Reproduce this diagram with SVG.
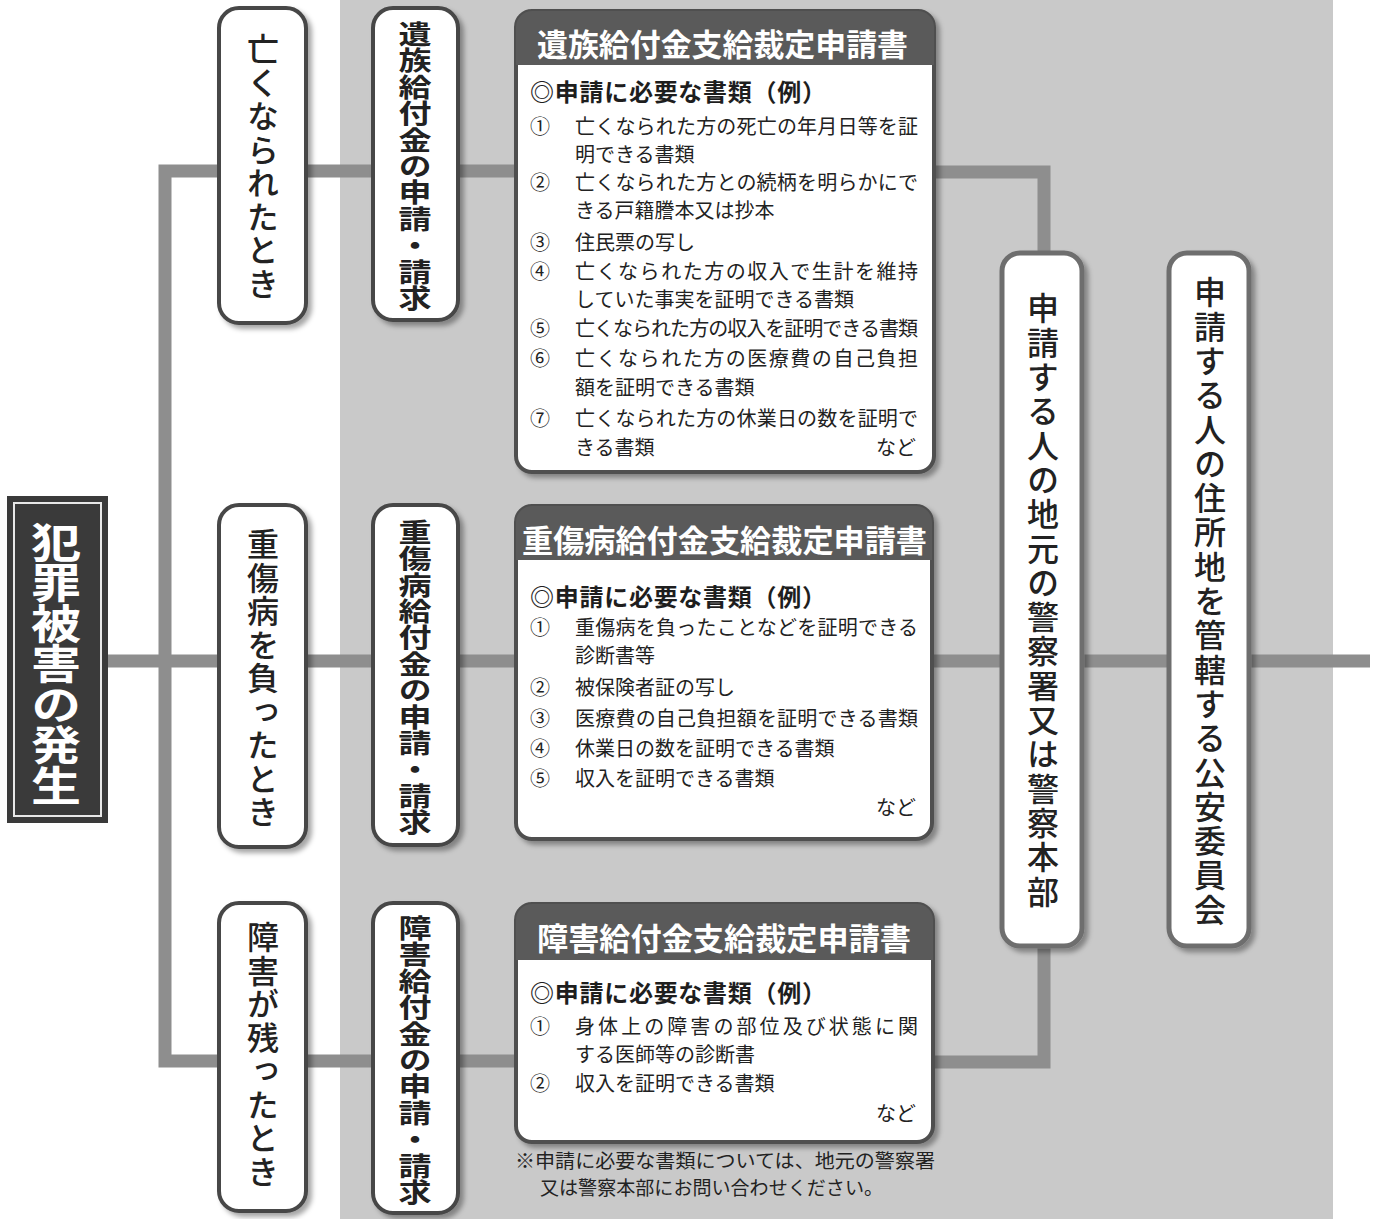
<svg xmlns="http://www.w3.org/2000/svg" width="1381" height="1219" viewBox="0 0 1381 1219">
<defs>
<filter id="sh" x="-20%" y="-20%" width="140%" height="140%">
<feDropShadow dx="4" dy="4" stdDeviation="2.5" flood-color="#000" flood-opacity="0.35"/>
</filter>
<style>
.jp{font-family:"Noto Sans CJK JP","Noto Sans CJK SC",sans-serif;}
.vt{writing-mode:vertical-rl;text-anchor:middle;}
.conn{fill:none;stroke:#8e8e8e;stroke-width:13;stroke-linejoin:miter;stroke-linecap:butt;}
.col{fill:#fff;stroke:#474747;stroke-width:4;filter:url(#sh);}
.col2{fill:#fff;stroke:#6e6e6e;stroke-width:5;filter:url(#sh);}
.lbl{font-size:32px;font-weight:500;fill:#222;letter-spacing:1.5px;}
.lblb{font-size:33px;font-weight:700;fill:#222;}
.doc{fill:#fff;stroke:#505050;stroke-width:4;filter:url(#sh);}
.hdr{fill:#5a5a5a;}
.ht{font-size:31px;font-weight:700;fill:#fff;}
.req{font-size:24px;font-weight:700;fill:#1e1e1e;}
.it{font-size:20px;font-weight:400;fill:#222;}
.fn{font-size:19px;font-weight:400;fill:#222;}
</style>
</defs>
<rect x="0" y="0" width="1381" height="1219" fill="#ffffff"/>
<rect x="340" y="0" width="993" height="1219" fill="#c9c9c9"/>

<g id="connectors">
<path class="conn" d="M515 171 H165 V1061 H515"/>
<path class="conn" d="M108 661 H1370"/>
<path class="conn" d="M930 172 H1044 V260"/>
<path class="conn" d="M1044 940 V1062 H930"/>
</g>

<g id="node-start">
<rect x="7" y="496" width="101" height="327" fill="#3a3a3a"/>
<rect x="14" y="503" width="87" height="313" fill="none" stroke="#e8e8e8" stroke-width="2"/>
<text class="jp vt" transform="translate(56,664) scale(1,0.81)" x="0" y="0" style="font-size:50px;font-weight:700;fill:#fff;">犯罪被害の発生</text>
</g>

<g id="node-death">
<rect class="col" x="219" y="8" width="87" height="315" rx="20"/>
<text class="jp vt lbl" x="263" y="167">亡くなられたとき</text>
</g>
<g id="node-death-apply">
<rect class="col" x="373" y="8" width="85" height="312" rx="20"/>
<text class="jp vt lblb" transform="translate(415,166) scale(1,0.8)" x="0" y="0">遺族給付金の申請・請求</text>
</g>

<g id="node-injury">
<rect class="col" x="219" y="505" width="87" height="342" rx="20"/>
<text class="jp vt lbl" x="263" y="679">重傷病を負ったとき</text>
</g>
<g id="node-injury-apply">
<rect class="col" x="373" y="505" width="85" height="340" rx="20"/>
<text class="jp vt lblb" transform="translate(415,677) scale(1,0.8)" x="0" y="0">重傷病給付金の申請・請求</text>
</g>

<g id="node-disability">
<rect class="col" x="219" y="903" width="87" height="308" rx="20"/>
<text class="jp vt lbl" x="263" y="1055">障害が残ったとき</text>
</g>
<g id="node-disability-apply">
<rect class="col" x="373" y="903" width="85" height="310" rx="20"/>
<text class="jp vt lblb" transform="translate(415,1060) scale(1,0.8)" x="0" y="0">障害給付金の申請・請求</text>
</g>

<g id="node-doc1">
<rect class="doc" x="516" y="11" width="418" height="461" rx="16"/>
<path class="hdr" d="M516 27 A16 16 0 0 1 532 11 H918 A16 16 0 0 1 934 27 V65 H516 Z"/>
<text class="jp ht" x="537" y="56" textLength="371" lengthAdjust="spacingAndGlyphs">遺族給付金支給裁定申請書</text>
<text class="jp req" x="530" y="101" textLength="296">◎申請に必要な書類（例）</text>
<g class="jp it">
<text x="530" y="134">①</text><text x="575" y="134" textLength="343">亡くなられた方の死亡の年月日等を証</text>
<text x="575" y="162">明できる書類</text>
<text x="530" y="190">②</text><text x="575" y="190" textLength="343">亡くなられた方との続柄を明らかにで</text>
<text x="575" y="218">きる戸籍謄本又は抄本</text>
<text x="530" y="250">③</text><text x="575" y="250">住民票の写し</text>
<text x="530" y="279">④</text><text x="575" y="279" textLength="343">亡くなられた方の収入で生計を維持</text>
<text x="575" y="307">していた事実を証明できる書類</text>
<text x="530" y="336">⑤</text><text x="575" y="336" textLength="343">亡くなられた方の収入を証明できる書類</text>
<text x="530" y="366">⑥</text><text x="575" y="366" textLength="343">亡くなられた方の医療費の自己負担</text>
<text x="575" y="395">額を証明できる書類</text>
<text x="530" y="426">⑦</text><text x="575" y="426" textLength="343">亡くなられた方の休業日の数を証明で</text>
<text x="575" y="455">きる書類</text>
<text x="916" y="455" text-anchor="end">など</text>
</g>
</g>

<g id="node-doc2">
<rect class="doc" x="516" y="506" width="416" height="333" rx="16"/>
<path class="hdr" d="M516 522 A16 16 0 0 1 532 506 H916 A16 16 0 0 1 932 522 V560 H516 Z"/>
<text class="jp ht" x="522" y="552" textLength="405" lengthAdjust="spacingAndGlyphs">重傷病給付金支給裁定申請書</text>
<text class="jp req" x="530" y="606" textLength="296">◎申請に必要な書類（例）</text>
<g class="jp it">
<text x="530" y="635">①</text><text x="575" y="635" textLength="343">重傷病を負ったことなどを証明できる</text>
<text x="575" y="663">診断書等</text>
<text x="530" y="695">②</text><text x="575" y="695">被保険者証の写し</text>
<text x="530" y="726">③</text><text x="575" y="726" textLength="343">医療費の自己負担額を証明できる書類</text>
<text x="530" y="756">④</text><text x="575" y="756">休業日の数を証明できる書類</text>
<text x="530" y="786">⑤</text><text x="575" y="786">収入を証明できる書類</text>
<text x="916" y="815" text-anchor="end">など</text>
</g>
</g>

<g id="node-doc3">
<rect class="doc" x="516" y="904" width="417" height="238" rx="16"/>
<path class="hdr" d="M516 920 A16 16 0 0 1 532 904 H917 A16 16 0 0 1 933 920 V960 H516 Z"/>
<text class="jp ht" x="537" y="950" textLength="374" lengthAdjust="spacingAndGlyphs">障害給付金支給裁定申請書</text>
<text class="jp req" x="530" y="1002" textLength="296">◎申請に必要な書類（例）</text>
<g class="jp it">
<text x="530" y="1034">①</text><text x="575" y="1034" textLength="343">身体上の障害の部位及び状態に関</text>
<text x="575" y="1062">する医師等の診断書</text>
<text x="530" y="1091">②</text><text x="575" y="1091">収入を証明できる書類</text>
<text x="916" y="1121" text-anchor="end">など</text>
</g>
</g>

<g id="footnote">
<text class="jp fn" x="515" y="1168" textLength="420" lengthAdjust="spacingAndGlyphs">※申請に必要な書類については、地元の警察署</text>
<text class="jp fn" x="540" y="1195" textLength="343" lengthAdjust="spacingAndGlyphs">又は警察本部にお問い合わせください。</text>
</g>

<g id="node-police">
<rect class="col2" x="1002" y="253" width="80" height="693" rx="18"/>
<text class="jp vt" x="1043" y="601" style="font-size:32px;font-weight:500;fill:#222;letter-spacing:2.3px;">申請する人の地元の警察署又は警察本部</text>
</g>
<g id="node-commission">
<rect class="col2" x="1169" y="253" width="80" height="693" rx="18"/>
<text class="jp vt" x="1210" y="602" style="font-size:32px;font-weight:500;fill:#222;letter-spacing:2.3px;">申請する人の住所地を管轄する公安委員会</text>
</g>
</svg>
